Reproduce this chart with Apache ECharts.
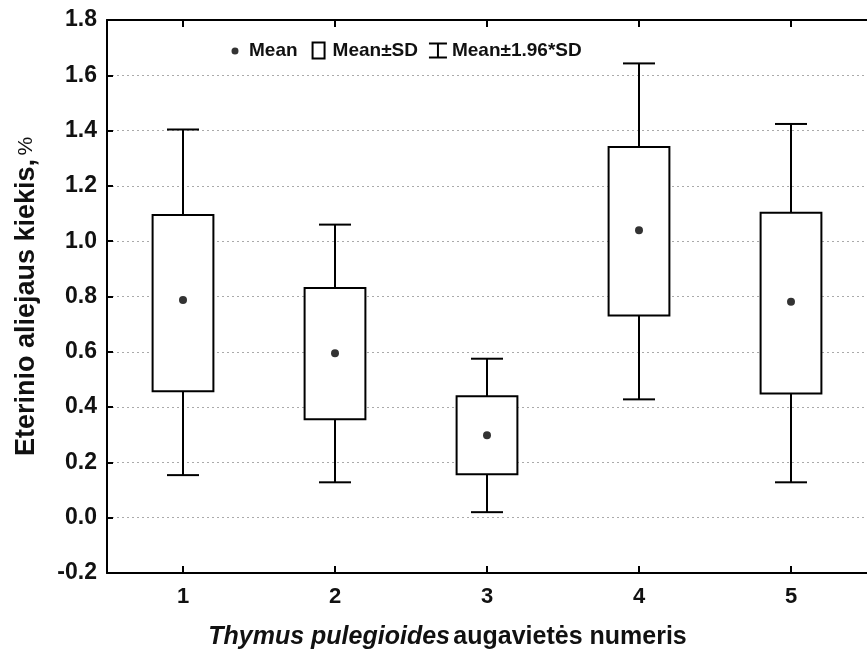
<!DOCTYPE html>
<html>
<head>
<meta charset="utf-8">
<script src="https://cdn.jsdelivr.net/npm/echarts@6/dist/echarts.min.js"></script>
<style>html,body{margin:0;padding:0;background:#fff;}#c{width:867px;height:655px;}</style>
</head>
<body>
<div id="c"></div>
<script>
const categories = ['1', '2', '3', '4', '5'];
const means   = [0.787, 0.595, 0.298, 1.040, 0.781];
const sdLow   = [0.457, 0.356, 0.157, 0.731, 0.449];
const sdHigh  = [1.095, 0.831, 0.439, 1.341, 1.103];
const ciLow   = [0.154, 0.128, 0.020, 0.428, 0.128];
const ciHigh  = [1.404, 1.060, 0.575, 1.643, 1.424];
const yTicks  = ['-0.2', '0.0', '0.2', '0.4', '0.6', '0.8', '1.0', '1.2', '1.4', '1.6', '1.8'];

const FONT = 'Liberation Sans, Arial, sans-serif';
const boxData = categories.map((c, i) => [i, ciLow[i], sdLow[i], means[i], sdHigh[i], ciHigh[i]]);

const chart = echarts.init(document.getElementById('c'), null, {renderer: 'canvas'});
const option = {
  backgroundColor: '#fff',
  animation: false,
  grid: {left: 107, top: 20, width: 769, height: 555, containLabel: false},
  legend: {
    left: 221, top: 36, itemWidth: 18, itemHeight: 16, itemGap: 11,
    textStyle: {fontFamily: FONT, fontWeight: 'bold', fontSize: 19, color: '#111'},
    data: [
      {name: 'Mean', icon: 'path://M0,0M18,16M9,5a3.5,3.5 0 1,0 0.001,0z', itemStyle: {color: '#000', borderWidth: 0}},
      {name: 'Mean±SD', icon: 'path://M0,0M18,16M3,0H15V16H3Z', itemStyle: {color: '#fff', borderColor: '#000', borderWidth: 2}},
      {name: 'Mean±1.96*SD', icon: 'path://M0,0H18V2H10V14H18V16H0V14H8V2H0Z', itemStyle: {color: '#000', borderWidth: 0}}
    ]
  },
  xAxis: [{
    type: 'category', data: categories, position: 'bottom', boundaryGap: true,
    axisLine: {onZero: false, lineStyle: {color: '#000', width: 2}},
    axisTick: {show: true, interval: 0, inside: true, alignWithLabel: true, length: 7, lineStyle: {color: '#000', width: 2}},
    axisLabel: {fontFamily: FONT, fontWeight: 'bold', fontSize: 22, color: '#111', margin: 13},
    splitLine: {show: false},
    name: '{i|Thymus pulegioides} {n|augavietės numeris}',
    nameLocation: 'middle', nameGap: 52,
    nameTextStyle: {padding: [0, 79, 0, 0], rich: {
      i: {fontFamily: FONT, fontWeight: 'bold', fontStyle: 'italic', fontSize: 25, color: '#111'},
      n: {fontFamily: FONT, fontWeight: 'bold', fontSize: 25, color: '#111'}
    }}
  }, {
    type: 'category', data: categories, position: 'top', boundaryGap: true,
    axisLine: {onZero: false, lineStyle: {color: '#000', width: 2}},
    axisTick: {show: true, interval: 0, inside: true, alignWithLabel: true, length: 7, lineStyle: {color: '#000', width: 2}},
    axisLabel: {show: false}, splitLine: {show: false}
  }],
  yAxis: {
    type: 'value', min: -0.2, max: 1.8, interval: 0.2,
    axisLine: {show: true, onZero: false, lineStyle: {color: '#000', width: 2}},
    axisTick: {show: true, inside: true, length: 6, lineStyle: {color: '#000', width: 2}},
    axisLabel: {fontFamily: FONT, fontWeight: 'bold', fontSize: 23, color: '#111', margin: 10,
      formatter: (v) => yTicks[Math.round((v + 0.2) / 0.2)]},
    splitLine: {show: true, lineStyle: {color: '#aaa', type: [2, 3], width: 1}},
    name: '{b|Eterinio aliejaus kiekis,} {p|%}',
    nameLocation: 'middle', nameGap: 67,
    nameTextStyle: {rich: {
      b: {fontFamily: FONT, fontWeight: 'bold', fontSize: 27, color: '#111'},
      p: {fontFamily: FONT, fontSize: 21, color: '#111'}
    }}
  },
  series: [
    {
      name: 'Mean±1.96*SD', type: 'custom', data: boxData, z: 2,
      itemStyle: {color: '#000'},
      renderItem: function (params, api) {
        const x = api.value(0);
        const pLo = api.coord([x, api.value(1)]);
        const pSL = api.coord([x, api.value(2)]);
        const pSH = api.coord([x, api.value(4)]);
        const pHi = api.coord([x, api.value(5)]);
        const cap = 16;
        const st = {stroke: '#000', lineWidth: 2, fill: null};
        return {type: 'group', children: [
          {type: 'line', shape: {x1: pHi[0], y1: pHi[1], x2: pSH[0], y2: pSH[1]}, style: st},
          {type: 'line', shape: {x1: pLo[0], y1: pLo[1], x2: pSL[0], y2: pSL[1]}, style: st},
          {type: 'line', shape: {x1: pHi[0] - cap, y1: pHi[1], x2: pHi[0] + cap, y2: pHi[1]}, style: st},
          {type: 'line', shape: {x1: pLo[0] - cap, y1: pLo[1], x2: pLo[0] + cap, y2: pLo[1]}, style: st}
        ]};
      }
    },
    {
      name: 'Mean±SD', type: 'custom', data: boxData, z: 3,
      itemStyle: {color: '#fff', borderColor: '#000'},
      renderItem: function (params, api) {
        const x = api.value(0);
        const pSL = api.coord([x, api.value(2)]);
        const pSH = api.coord([x, api.value(4)]);
        const half = api.size([1, 0])[0] * 0.2;
        return {type: 'rect',
          shape: {x: pSL[0] - half, y: pSH[1], width: half * 2, height: pSL[1] - pSH[1]},
          style: {fill: '#fff', stroke: '#000', lineWidth: 2}};
      }
    },
    {
      name: 'Mean', type: 'scatter', z: 4,
      data: means.map((m, i) => [i, m]),
      symbol: 'circle', symbolSize: 8,
      itemStyle: {color: '#000'}
    }
  ]
};
chart.setOption(option);
</script>
</body>
</html>
